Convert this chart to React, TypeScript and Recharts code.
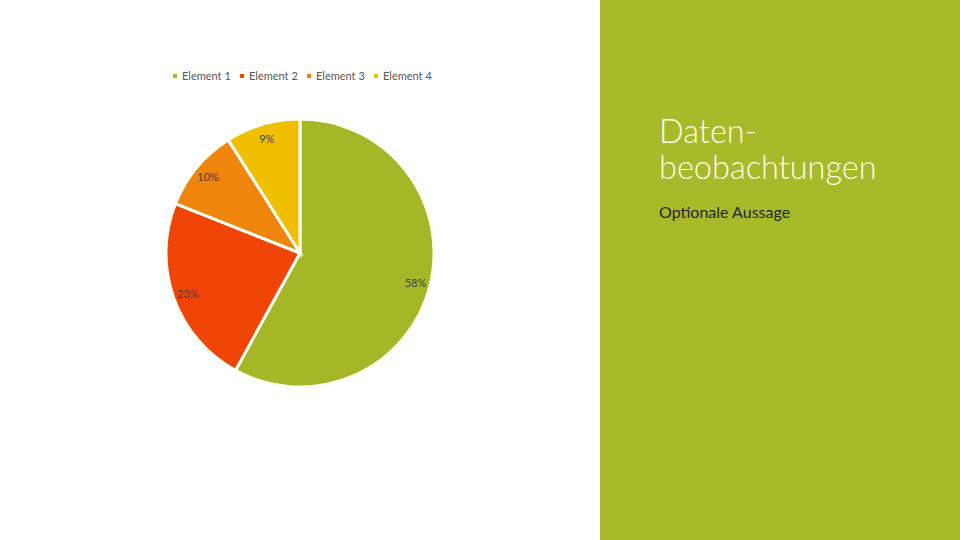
import React from "react";
import { PieChart, Pie, Cell } from "recharts";

const categories = ["Element 1", "Element 2", "Element 3", "Element 4"];
const values = [58, 23, 10, 9];
const colors = ["#A5B726", "#F04506", "#EF850C", "#F0C000"];

const data = categories.map((name, i) => ({ name, value: values[i] }));

const RADIAN = Math.PI / 180;

const renderLabel = (props: any) => {
  const { cx, cy, midAngle, outerRadius, percent } = props;
  const r = outerRadius * 0.89;
  const x = cx + r * Math.cos(-midAngle * RADIAN);
  const y = cy + r * Math.sin(-midAngle * RADIAN);
  return (
    <text
      x={x}
      y={y}
      fill="#404040"
      fontSize={11}
      fontFamily="Lato, 'Open Sans', sans-serif"
      textAnchor="middle"
      dominantBaseline="central"
    >
      {`${Math.round(percent * 100)}%`}
    </text>
  );
};

export default function App() {
  return (
    <div style={{ position: "fixed", left: 0, top: 0, width: 960, height: 540, background: "#fff", overflow: "hidden" }}>
      <div style={{ position: "absolute", left: 0, top: 0 }}>
        <PieChart width={600} height={540} margin={{ top: 0, right: 0, bottom: 0, left: 0 }}>
          <Pie
            data={data}
            dataKey="value"
            nameKey="name"
            cx={300}
            cy={253}
            outerRadius={134}
            startAngle={90}
            endAngle={-270}
            stroke="#FFFFF4"
            strokeWidth={3}
            label={renderLabel}
            labelLine={false}
            isAnimationActive={false}
          >
            {data.map((d, i) => (
              <Cell key={d.name} fill={colors[i]} />
            ))}
          </Pie>
        </PieChart>
      </div>
      <div
        style={{
          position: "absolute",
          left: 173,
          top: 69,
          display: "flex",
          fontFamily: "Lato, 'Open Sans', sans-serif",
          fontSize: 11,
          color: "#595959",
        }}
      >
        {categories.map((c, i) => (
          <div key={c} style={{ display: "flex", alignItems: "center", width: 67 }}>
            <span style={{ display: "inline-block", width: 4, height: 4, background: colors[i], marginRight: 5 }} />
            <span style={{ whiteSpace: "nowrap" }}>{c}</span>
          </div>
        ))}
      </div>
      <div style={{ position: "absolute", left: 600, top: 0, width: 360, height: 540, background: "#A8B929" }}>
        <div
          style={{
            position: "absolute",
            left: 59,
            top: 113,
            fontFamily: "Lato, sans-serif",
            fontWeight: 300,
            fontSize: 32.5,
            lineHeight: "36px",
            color: "#FFFFEA",
          }}
        >
          Daten-
          <br />
          beobachtungen
        </div>
        <div
          style={{
            position: "absolute",
            left: 59,
            top: 202,
            fontFamily: "Lato, sans-serif",
            fontSize: 16,
            color: "#262626",
          }}
        >
          Optionale Aussage
        </div>
      </div>
    </div>
  );
}
